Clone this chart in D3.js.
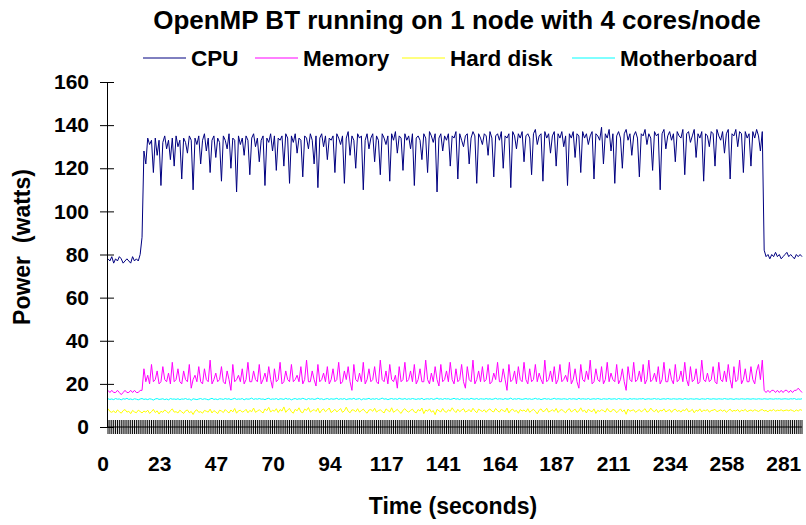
<!DOCTYPE html>
<html>
<head>
<meta charset="utf-8">
<script src="https://cdn.jsdelivr.net/npm/d3@7"></script>
<style>
  html, body { margin: 0; padding: 0; background: #fff; }
  svg { display: block; }
  text { font-family: "Liberation Sans", Arial, sans-serif; font-weight: bold; fill: #000; }
</style>
</head>
<body>
<svg id="chart" width="806" height="525"></svg>
<script>
// ---------------- DATA ----------------
const title = "OpenMP BT running on 1 node with 4 cores/node";
const seriesNames = ["CPU", "Memory", "Hard disk", "Motherboard"];
const seriesColors = ["#000080", "#FF00FF", "#FFFF00", "#00FFFF"];
const xTickLabels = ["0","23","47","70","94","117","141","164","187","211","234","258","281"];
const xLabelEvery = 30;
const yTicks = [0,20,40,60,80,100,120,140,160];

const cpu = [
78,77,79,76,78,77,79,78,76,77,78,77,76,79,77,78,77,80,
88,
128,122,134,131,133,118,134,126,133,112,132,135,129,133,124,134,121,135,130,133,
115,134,132,127,135,133,110,134,131,135,122,133,136,128,134,118,133,135,125,134,
132,114,135,133,129,136,120,134,133,109,135,131,134,126,135,133,117,134,136,130,
134,123,133,135,112,134,132,136,128,135,119,134,133,135,121,136,134,113,135,132,
136,127,134,133,116,135,134,129,136,133,122,135,111,134,136,130,135,124,134,133,
135,118,136,134,131,135,113,134,137,126,135,133,120,136,134,135,110,133,136,129,
134,136,123,135,133,117,136,134,131,135,114,136,133,137,127,135,134,119,136,133,
135,129,136,112,134,135,133,124,136,134,118,137,135,132,136,109,134,136,128,135,
133,136,121,135,134,137,115,136,133,130,135,136,122,134,137,135,113,136,134,131,
136,135,126,137,134,116,135,136,133,137,120,135,134,136,111,137,135,129,136,134,
137,123,135,136,134,117,136,138,131,135,136,114,137,134,136,127,135,137,121,136,
134,137,130,135,112,136,134,137,125,136,135,118,137,134,136,131,135,137,115,136,
135,133,139,122,136,134,138,128,136,113,135,137,134,120,136,138,133,136,126,135,
137,134,116,136,135,138,131,136,134,119,137,135,136,110,136,138,129,135,137,133,
136,123,137,135,134,138,117,136,137,132,135,138,125,136,134,137,114,136,135,130,
137,136,121,138,135,133,137,127,136,138,115,136,135,138,130,137,136,118,137,134,
136,121,137,134,138,135,128,137,
82,79,80,78,80,79,81,79,80,78,79,80,81,79,80,79,78,80,79,80,79
];

const memory = [
17,16,17,16,16,17,16,15,16,17,16,16,17,16,17,16,16,17,
17,
27,21,24,20,29,21,22,26,20,21,28,22,21,25,20,30,21,22,27,21,
20,26,22,21,29,18,22,24,21,28,21,20,27,22,21,31,20,22,25,21,
22,28,21,20,26,22,17,29,21,22,24,21,27,20,22,30,21,21,26,22,
21,29,20,22,25,21,28,22,18,27,21,22,30,20,21,26,22,21,29,21,
22,24,21,28,20,22,31,21,21,26,22,19,29,21,22,25,21,28,20,22,
27,21,22,30,20,21,26,22,28,21,17,29,22,21,25,21,30,20,22,27,
21,22,28,21,20,31,22,21,26,20,29,22,21,24,18,28,21,22,30,21,
22,26,21,29,20,22,27,21,21,31,22,20,25,21,28,22,19,29,21,22,
26,21,30,22,20,27,21,22,29,21,18,28,22,21,31,20,22,26,21,28,
21,22,29,20,21,25,22,30,21,21,27,22,17,29,21,22,26,20,28,22,
21,30,22,20,27,21,22,29,21,25,22,20,31,21,22,26,21,28,20,22,
29,21,22,24,21,30,20,22,27,21,18,29,22,21,26,22,31,20,21,27,
22,21,28,20,22,30,21,25,22,21,29,20,22,27,21,17,28,22,21,30,
21,22,26,21,29,20,22,31,21,22,25,21,28,20,22,30,21,21,27,22,
20,29,21,22,26,21,30,22,19,28,21,22,27,20,21,31,22,21,25,21,
22,28,21,20,30,22,21,26,21,29,22,18,28,21,22,31,20,22,27,21,
21,28,22,20,26,29,22,31,
17,16,17,16,17,17,16,17,16,17,16,17,17,16,17,16,17,17,18,17,16
];

const hardDisk = [
8.5,7.2,6.8,7.5,6.5,7.9,7.1,6.4,7.6,8.1,6.9,7.3,6.2,7.7,7.0,6.6,7.8,7.2,6.5,7.4,
6.9,7.8,6.3,7.1,8.2,6.7,7.5,6.0,7.3,6.8,7.9,7.2,6.4,7.6,8.4,6.9,7.1,6.5,7.8,7.0,
6.3,7.5,7.9,6.6,7.2,5.8,7.4,8.0,6.8,7.1,6.4,7.7,7.3,6.9,8.3,6.5,7.6,7.0,6.2,7.8,
7.4,6.7,8.1,7.2,6.5,7.9,7.0,8.6,6.4,7.5,7.8,6.9,7.3,8.2,6.6,7.7,7.1,8.8,6.8,7.4,
8.0,7.2,6.5,8.4,7.6,9.1,6.9,7.8,7.3,8.5,6.7,8.1,7.4,9.3,6.8,7.9,8.6,7.1,6.4,8.2,
7.5,8.9,7.0,6.6,8.3,7.7,9.0,6.9,7.6,8.1,7.2,8.7,6.5,7.8,8.4,7.1,7.9,8.8,6.7,7.4,
8.2,7.0,7.7,8.6,6.8,7.5,9.2,7.3,6.6,8.0,7.8,7.1,8.5,6.9,7.6,8.3,7.2,6.4,7.9,8.1,
7.3,8.7,6.9,7.6,8.0,7.2,6.5,8.4,7.7,7.0,8.9,6.8,7.5,8.2,7.1,6.3,7.8,8.5,7.4,6.9,
7.7,8.3,7.0,6.6,8.1,7.4,8.8,6.2,7.9,7.3,8.4,6.9,7.6,5.7,8.2,7.5,7.0,8.6,7.2,6.8,
8.0,7.3,8.9,7.6,6.7,8.2,7.1,7.8,8.5,6.9,7.4,8.1,7.0,8.7,7.5,6.6,8.3,7.7,7.2,8.0,
6.8,7.9,8.4,7.3,7.0,8.6,7.5,6.9,8.2,7.6,7.1,8.8,6.5,7.8,8.3,7.2,7.7,6.4,8.1,7.4,
7.9,7.0,8.5,6.8,7.6,8.2,7.3,6.1,7.8,8.4,7.1,7.5,8.7,6.9,7.4,8.0,7.2,8.6,6.7,7.7,
8.1,7.3,6.6,7.9,8.5,7.0,7.6,8.3,6.8,7.4,8.9,7.2,7.8,6.5,8.2,7.5,7.1,8.4,6.3,7.7,
7.2,8.0,7.6,6.9,8.6,7.4,7.0,8.2,7.8,6.6,7.5,8.4,7.1,7.9,5.9,8.3,7.3,7.7,8.0,6.8,
7.5,8.1,7.0,7.7,8.5,6.9,7.3,8.8,7.6,7.1,8.2,6.7,7.8,7.4,8.4,7.0,7.6,8.1,6.8,7.9,
8.3,7.2,7.7,6.9,8.0,7.5,8.6,7.1,7.4,8.2,6.6,7.8,7.3,8.4,7.0,7.9,7.5,8.1,6.9,7.6,
7.8,8.2,7.1,7.5,8.0,7.3,7.9,6.8,7.6,8.3,7.2,7.7,7.4,8.1,7.0,7.8,7.5,8.2,7.1,7.6,
7.9,7.3,8.0,7.6,7.2,7.8,8.1,7.4,7.7,7.0,7.9,7.5,8.2,7.3,7.8,7.6,8.0,7.4,7.7,7.9,
7.5,8.0,7.6,7.2,7.9,7.4,8.1,7.7
];

const motherboard = [
13.1,12.8,13.0,12.7,13.2,12.9,13.0,12.6,13.1,12.9,13.3,12.8,13.0,12.7,13.1,12.9,12.6,13.0,13.2,12.8,
13.0,12.7,13.1,12.9,12.5,13.0,13.2,12.8,12.9,13.1,12.7,13.0,12.6,13.2,12.9,13.0,12.8,13.1,12.7,13.0,
12.9,13.2,12.8,13.0,12.4,13.1,12.9,12.7,13.0,13.2,12.8,13.1,12.9,12.6,13.0,13.3,12.8,13.0,12.7,13.1,
13.0,12.8,13.2,12.9,13.1,12.7,13.0,13.3,12.8,13.0,12.9,13.2,12.6,13.1,12.9,13.0,13.4,12.8,13.1,12.9,
13.2,12.9,13.0,12.7,13.1,13.3,12.8,13.0,12.9,13.2,12.7,13.1,13.0,12.8,13.3,12.9,13.1,12.6,13.0,13.2,
12.8,13.1,12.9,13.3,13.0,12.7,13.2,12.9,13.1,12.8,13.0,13.4,12.9,13.1,12.7,13.0,13.2,12.8,13.1,12.9,
13.0,13.3,12.8,13.1,12.9,13.2,12.7,13.0,13.1,12.9,13.3,12.8,13.0,13.2,12.6,13.1,12.9,13.0,13.3,12.8,
13.1,12.9,13.2,12.8,13.0,13.4,12.9,13.1,12.7,13.0,13.2,12.9,13.1,12.8,13.3,13.0,12.9,13.2,12.8,13.1,
12.9,13.2,13.0,12.8,13.1,12.9,13.3,12.7,13.0,13.1,12.9,13.2,12.8,13.0,13.4,12.9,13.1,12.8,13.2,13.0,
13.1,12.8,13.0,13.3,12.9,13.1,12.7,13.2,13.0,12.9,13.1,12.8,13.3,13.0,12.9,13.2,12.8,13.1,13.0,12.9,
13.2,12.9,13.1,12.8,13.0,13.3,12.9,13.1,13.0,12.8,13.2,12.9,13.0,13.4,12.8,13.1,12.9,13.2,13.0,12.8,
13.0,13.2,12.9,13.1,12.8,13.0,13.3,12.9,13.1,12.7,13.0,13.2,12.9,13.1,12.8,13.0,13.3,12.9,13.1,13.0,
12.9,13.1,13.0,12.8,13.2,12.9,13.1,13.0,12.8,13.3,12.9,13.1,13.0,12.9,13.2,12.8,13.0,13.1,12.9,13.2,
13.0,12.8,13.1,13.0,12.9,13.2,12.9,13.0,13.1,12.8,13.2,13.0,12.9,13.1,13.0,12.8,13.2,12.9,13.1,13.0,
12.9,13.1,13.0,13.2,12.8,13.0,13.1,12.9,13.0,13.2,12.9,13.1,12.8,13.0,13.1,12.9,13.2,13.0,12.9,13.1,
13.0,12.9,13.1,13.0,12.8,13.2,13.0,12.9,13.1,13.0,12.9,13.1,13.0,12.8,13.1,13.0,12.9,13.2,13.0,12.9,
13.1,13.0,12.9,13.1,13.0,12.9,13.2,13.0,12.9,13.1,13.0,12.8,13.1,13.0,12.9,13.1,13.0,12.9,13.1,13.0,
12.9,13.1,13.0,12.9,13.1,13.0,12.9,13.1,13.0,12.9,13.1,13.0,12.9,13.1,13.0,13.1,12.9,13.0,13.1,13.0,
12.9,13.1,13.0,13.2,12.8,13.0,12.9,13.1
];

// ---------------- CHART ----------------
const svg = d3.select("#chart");
const seriesData = [cpu, memory, hardDisk, motherboard];
const nPoints = d3.max(seriesData, s => s.length);

const x = d3.scaleLinear().domain([0, nPoints - 1]).range([108, 802]);
const y = d3.scaleLinear().domain([0, 160]).range([427, 82]);

// Series lines
const line = d3.line().x((d, i) => x(i)).y(d => y(d));
const drawOrder = [3, 2, 1, 0];
drawOrder.forEach(k => {
  svg.append("path")
    .datum(seriesData[k])
    .attr("d", line)
    .attr("fill", "none")
    .attr("stroke", seriesColors[k])
    .attr("stroke-width", 1);
});

// Y axis
const yAxis = d3.axisLeft(y).tickValues(yTicks).tickSizeInner(7).tickSizeOuter(0).tickPadding(12);
const gy = svg.append("g").attr("transform", "translate(107,0)").call(yAxis);
gy.select(".domain").attr("stroke", "#000");
gy.selectAll(".tick line").attr("x1", 7).attr("x2", -7).attr("stroke", "#000");
gy.selectAll(".tick text")
  .attr("x", -18)
  .style("font-size", "21px")
  .style("font-family", "'Liberation Sans', Arial, sans-serif")
  .style("font-weight", "bold")
  .attr("fill", "#000");

// X axis: a tick mark at every sample (dense black band)
const idx = d3.range(nPoints);
svg.append("g").selectAll("line.xt")
  .data(idx).join("line")
  .attr("class", "xt")
  .attr("x1", d => x(d)).attr("x2", d => x(d))
  .attr("y1", y(0) - 7).attr("y2", y(0) + 7)
  .attr("stroke", "#000").attr("stroke-width", 1);
svg.append("line")
  .attr("x1", 107).attr("x2", x(nPoints - 1))
  .attr("y1", y(0)).attr("y2", y(0))
  .attr("stroke", "#000");

// X tick labels every xLabelEvery samples
svg.append("g").selectAll("text.xl")
  .data(xTickLabels).join("text")
  .attr("class", "xl")
  .attr("x", (d, i) => x(i * xLabelEvery) - 5)
  .attr("y", 471)
  .attr("text-anchor", "middle")
  .style("font-size", "21px")
  .text(d => d);

// Title
svg.append("text")
  .attr("x", 457).attr("y", 29)
  .attr("text-anchor", "middle")
  .style("font-size", "26px")
  .text(title);

// Legend
const legendX = [143, 255, 402, 572];
const legend = svg.append("g");
seriesNames.forEach((name, i) => {
  legend.append("line")
    .attr("x1", legendX[i]).attr("x2", legendX[i] + 43)
    .attr("y1", 58).attr("y2", 58)
    .attr("stroke", seriesColors[i]).attr("stroke-width", 1);
  legend.append("text")
    .attr("x", legendX[i] + 48).attr("y", 66)
    .style("font-size", "22.5px")
    .text(name);
});

// Axis titles
svg.append("text")
  .attr("x", 453).attr("y", 514)
  .attr("text-anchor", "middle")
  .style("font-size", "23px")
  .text("Time (seconds)");

svg.append("text")
  .attr("transform", "translate(30,247) rotate(-90)")
  .attr("text-anchor", "middle")
  .style("font-size", "23px")
  .style("white-space", "pre")
  .attr("xml:space", "preserve")
  .text("Power  (watts)");
</script>
</body>
</html>
